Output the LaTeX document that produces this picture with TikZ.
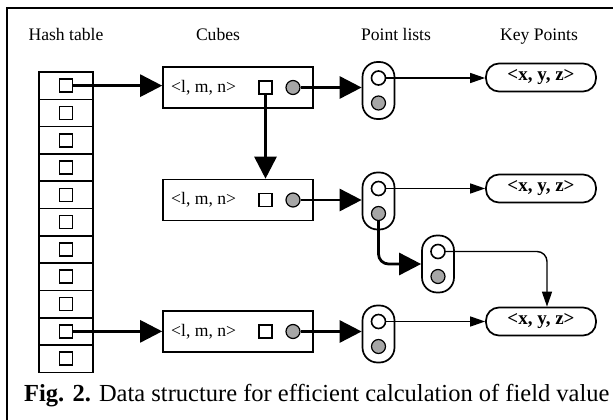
\documentclass[tikz,border=0pt]{standalone}
\usepackage{fontspec}
\setmainfont{Liberation Serif}
\usetikzlibrary{arrows.meta,positioning}

\tikzset{
    lbl/.style={font=\fontsize{17.6}{20}\selectfont, inner sep=0pt},
    hashcell/.style={draw, line width=1.6pt, minimum width=54pt, minimum height=27.3pt, inner sep=0pt},
    ptrbox/.style={draw, line width=1.6pt, minimum size=13pt, inner sep=0pt},
    ptrdot/.style={circle, draw, line width=1.2pt, fill=gray!70, minimum size=14pt, inner sep=0pt},
    ptrring/.style={circle, draw, line width=1.6pt, fill=white, minimum size=14pt, inner sep=0pt},
    cubebox/.style={draw, line width=1.6pt, minimum width=150pt, minimum height=41pt, inner sep=0pt},
    plist/.style={draw, line width=1.7pt, rounded corners=15pt, minimum width=32pt, minimum height=57pt, inner sep=0pt},
    keybox/.style={draw, line width=1.7pt, rounded corners=13pt, minimum width=110pt, minimum height=28pt, inner sep=0pt, font=\fontsize{19}{22}\selectfont\bfseries},
    bigarrow/.style={line width=2.8pt, -{Triangle[length=22pt,width=22pt]}},
    thinarrow/.style={line width=1.4pt, -{Triangle[length=15pt,width=10pt]}}
}

\begin{document}
\begin{tikzpicture}[x=1pt,y=-1pt]
                \useasboundingbox (0,0) rectangle (613,420);
                \coordinate (frametr) at (613,8);
                \coordinate (frametl) at (7,8);
                \coordinate (framebl) at (7,420);
                \draw[line width=1.3pt] (frametr) -- (frametl) -- (framebl);

                \node[lbl, anchor=base] (hdrhash) at (66,41) {Hash table};
                \node[lbl, anchor=base] (hdrcube) at (218,41) {Cubes};
                \node[lbl, anchor=base] (hdrpl) at (396,41) {Point lists};
                \node[lbl, anchor=base] (hdrkp) at (539,41) {Key Points};

                \foreach \i in {1,...,11}{
                    \node[hashcell] (h\i) at (66,{72+27.3*(\i-0.5)}) {};
                    \node[ptrbox] (hp\i) at (h\i.center) {};
                }

                \foreach \n/\y in {1/87.5,2/200,3/331.5}{
                    \node[cubebox] (cube\n) at (238,\y) {};
                    \node[lbl, anchor=west] (cubetxt\n) at (171,\y) {<l, m, n>};
                    \node[ptrbox] (csq\n) at (265.5,\y) {};
                    \node[ptrdot] (cdot\n) at (293,\y) {};
                }

                \foreach \n/\x/\y in {1/378.5/90.5,2/378.5/201,3/438/264,4/378.5/334}{
                    \node[plist] (pl\n) at (\x,\y) {};
                    \node[ptrring] (plo\n) at (\x,{\y-12.5}) {};
                    \node[ptrdot] (pld\n) at (\x,{\y+12.5}) {};
                }

                \foreach \n/\y in {1/77.5,2/188.5,3/321.5}{
                    \node[keybox] (kp\n) at (541,\y) {<x, y, z>};
                }

                \draw[bigarrow] (hp1.east) -- (hp1 -| cube1.west);
                \draw[bigarrow] (hp10.east) -- (hp10 -| cube3.west);
                \draw[bigarrow] (csq1.south) -- (csq1 |- cube2.north);
                \foreach \n/\m in {1/1,2/2,3/4}{
                    \draw[bigarrow] (cdot\n.east) -- (cdot\n -| pl\m.west);
                }
                \draw[bigarrow, rounded corners=10pt] (pld2.south) |- (pl3.west);

                \draw[thinarrow] (plo1.east) -- (plo1 -| kp1.west);
                \draw[thinarrow] (plo2.east) -- (plo2 -| kp2.west);
                \draw[thinarrow] (plo4.east) -- (plo4 -| kp3.west);
                \draw[thinarrow, rounded corners=10pt] (plo3.east) -| ([xshift=6pt]kp3.north);

                \node[anchor=base west, inner sep=0pt, font=\fontsize{24.5}{28}\selectfont] (caption) at (24,401.5)
                    {\textbf{Fig. 2.} Data structure for efficient calculation of field value};
\end{tikzpicture}
\end{document}
